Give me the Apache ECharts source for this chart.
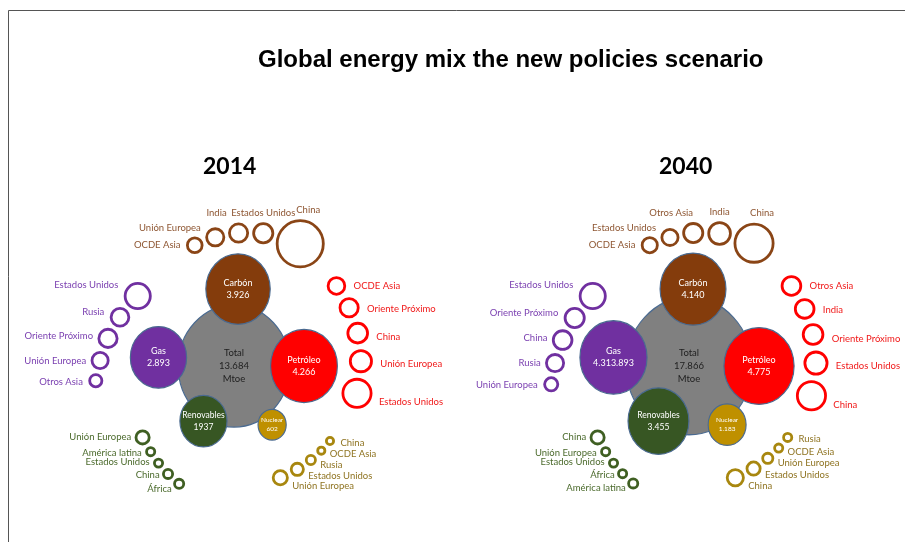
<!DOCTYPE html>
<html>
<head>
<meta charset="utf-8">
<script src="https://cdn.jsdelivr.net/npm/echarts@6/dist/echarts.min.js"></script>
<style>
  html, body { margin: 0; padding: 0; background: #ffffff; }
  #chart { width: 905px; height: 542px; }
</style>
</head>
<body>
<div id="chart"></div>
<script>
// ---------------- Data (Mtoe) ----------------
const years = ['2014', '2040'];
const fuels = ['Carbón', 'Petróleo', 'Gas', 'Renovables', 'Nuclear'];
const fuelValues2014 = [3926, 4266, 2893, 1937, 602];
const fuelValues2040 = [4140, 4775, 4313.893, 3455, 1183];
const fuelText2014 = ['3.926', '4.266', '2.893', '1937', '602'];
const fuelText2040 = ['4.140', '4.775', '4.313.893', '3.455', '1.183'];
const totals = [13684, 17866];
const totalText = ['13.684', '17.866'];

// Regional demand per fuel, in the order the rings follow their arc
const coalRegions2014 = ['OCDE Asia', 'Unión Europea', 'India', 'Estados Unidos', 'China'];
const coalValues2014 = [185, 250, 280, 310, 1900];
const oilRegions2014 = ['OCDE Asia', 'Oriente Próximo', 'China', 'Unión Europea', 'Estados Unidos'];
const oilValues2014 = [235, 280, 326, 377, 674];
const gasRegions2014 = ['Estados Unidos', 'Rusia', 'Oriente Próximo', 'Unión Europea', 'Otros Asia'];
const gasValues2014 = [535, 265, 280, 222, 130];
const renRegions2014 = ['Unión Europea', 'América latina', 'Estados Unidos', 'China', 'África'];
const renValues2014 = [150, 64, 64, 78, 78];
const nucRegions2014 = ['Unión Europea', 'Estados Unidos', 'Rusia', 'OCDE Asia', 'China'];
const nucValues2014 = [172, 130, 78, 52, 52];

const coalRegions2040 = ['OCDE Asia', 'Estados Unidos', 'Otros Asia', 'India', 'China'];
const coalValues2040 = [196, 222, 309, 395, 1270];
const oilRegions2040 = ['Otros Asia', 'India', 'Oriente Próximo', 'Estados Unidos', 'China'];
const oilValues2040 = [294, 294, 326, 414, 674];
const gasRegions2040 = ['Estados Unidos', 'Oriente Próximo', 'China', 'Rusia', 'Unión Europea'];
const gasValues2040 = [535, 309, 294, 249, 150];
const renRegions2040 = ['China', 'Unión Europea', 'Estados Unidos', 'África', 'América latina'];
const renValues2040 = [150, 64, 64, 64, 78];
const nucRegions2040 = ['China', 'Estados Unidos', 'Unión Europea', 'OCDE Asia', 'Rusia'];
const nucValues2040 = [222, 150, 94, 64, 64];

// ---------------- Layout & style ----------------
const W = 905, H = 542;
const panelCenter = [[234, 366], [689, 366]];
const fuelColors  = ['#843C0C', '#FF0000', '#7030A0', '#375623', '#BF9000'];
const ringColors  = ['#8A4516', '#FF0000', '#7030A0', '#3F5F22', '#A8870F'];
const ringText    = ['#8E5632', '#F01818', '#7A3FB0', '#4B6A2C', '#8F7422'];
const outline = '#4A6A90';

// bubble diameter (px) from a value in Mtoe
const SIZE_K = 36.9, SIZE_P = 0.441;
const diam = v => SIZE_K * Math.pow(v / 1000, SIZE_P);
const ellipse = d => [d * 0.955, d * 1.045];

// where each fuel bubble sits around the total (deg ccw from east, px from centre)
const hubAngle = [87, 0, 173.5, 241, 303];
const hubDist  = [77, 70, 76, 63, 70];

// arcs carrying the regional rings of each fuel
const arcs = [
  { start: 108,   dir: -1, r0: 127, dr: 3,   gap: 3 },   // Carbón
  { start: 38,    dir: -1, r0: 130, dr: -1,  gap: 5 },   // Petróleo
  { start: 144,   dir: 1,  r0: 119, dr: 5,   gap: 3 },   // Gas
  { start: 218,   dir: 1,  r0: 116, dr: 3.5, gap: 2.5 }, // Renovables
  { start: -67.5, dir: 1,  r0: 121, dr: 0.2, gap: 3 }    // Nuclear
];
const RING_W = 2.8;

// label placement for each ring slot: [position, distance, offset]
const ringLabelSlots = [
  [['left', 4, [0, 0]], ['left', 3, [0, -9]], ['top', 3, [-22, 0]], ['top', 3, [0, 0]], ['top', 3, [8, 0]]],
  [['right', 6, [0, 0]], ['right', 6, [0, 1]], ['right', 6, [0, 4]], ['right', 6, [0, 3]], ['right', 5, [0, 9]]],
  [['left', 4, [0, -11]], ['left', 4, [0, -5]], ['left', 3, [0, -2]], ['left', 3, [0, 0]], ['left', 4, [0, 1]]],
  [['left', 2, [0, 0]], ['left', 2, [0, 1]], ['left', 2, [0, -1]], ['left', 1, [0, 1]], ['left', 0, [0, 5]]],
  [['right', 2, [0, 8]], ['right', 2, [0, 6.5]], ['right', 2, [0, 5]], ['right', 2, [0, 3.5]], ['right', 4, [0, 2]]]
];

const panels = [
  { center: panelCenter[0], total: totals[0], totalText: totalText[0],
    values: fuelValues2014, texts: fuelText2014,
    rings: [[coalRegions2014, coalValues2014], [oilRegions2014, oilValues2014], [gasRegions2014, gasValues2014],
            [renRegions2014, renValues2014], [nucRegions2014, nucValues2014]] },
  { center: panelCenter[1], total: totals[1], totalText: totalText[1],
    values: fuelValues2040, texts: fuelText2040,
    rings: [[coalRegions2040, coalValues2040], [oilRegions2040, oilValues2040], [gasRegions2040, gasValues2040],
            [renRegions2040, renValues2040], [nucRegions2040, nucValues2040]] }
];

function polar(c, r, deg) {
  const t = deg * Math.PI / 180;
  return [c[0] + r * Math.cos(t), c[1] - r * Math.sin(t)];
}

// rings follow their arc, each one placed just past its neighbour
function arcPositions(center, arc, values) {
  const pts = [];
  let ang = arc.start;
  values.forEach((v, i) => {
    const r = arc.r0 + arc.dr * i;
    if (i > 0) {
      const chord = diam(values[i - 1]) / 2 + diam(v) / 2 + arc.gap;
      ang += arc.dir * (chord / (r - arc.dr / 2)) * 180 / Math.PI;
    }
    pts.push(polar(center, r, ang));
  });
  return pts;
}

const FONT = 'Lato, "Open Sans", sans-serif';

// total bubbles
const totalData = panels.map(p => ({
  name: 'Total',
  value: [p.center[0], p.center[1], p.total],
  label: { formatter: 'Total\n' + p.totalText + '\nMtoe' }
}));

// fuel bubbles
const fuelData = [];
panels.forEach(p => {
  fuels.forEach((f, i) => {
    const pos = polar(p.center, hubDist[i], hubAngle[i]);
    const small = i === 4;
    fuelData.push({
      name: f,
      value: [pos[0], pos[1], p.values[i]],
      itemStyle: { color: fuelColors[i] },
      label: {
        formatter: f + '\n' + p.texts[i],
        fontSize: small ? 6.5 : (i === 3 ? 8.5 : 9),
        lineHeight: small ? 9 : 12
      }
    });
  });
});

// regional ring series, one per fuel
const ringSeries = fuels.map((f, fi) => {
  const data = [];
  panels.forEach(p => {
    const [regions, vals] = p.rings[fi];
    const pts = arcPositions(p.center, arcs[fi], vals);
    regions.forEach((reg, k) => {
      const slot = ringLabelSlots[fi][k];
      data.push({
        name: reg,
        value: [pts[k][0], pts[k][1], vals[k]],
        label: {
          position: slot[0],
          distance: slot[1] + RING_W / 2,
          offset: slot[2]
        }
      });
    });
  });
  return {
    type: 'scatter',
    name: f + ' regiones',
    silent: true,
    z: 4,
    symbol: 'circle',
    symbolSize: v => diam(v[2]) - RING_W,
    itemStyle: { color: 'rgba(255,255,255,0)', borderColor: ringColors[fi], borderWidth: RING_W, opacity: 1 },
    label: {
      show: true,
      formatter: '{b}',
      color: ringText[fi],
      fontFamily: FONT,
      fontSize: 9.5
    },
    data
  };
});

const option = {
  backgroundColor: '#ffffff',
  animation: false,
  title: [
    { text: 'Global energy mix the new policies scenario', left: 253, top: 43,
      textStyle: { fontFamily: '"Liberation Sans", Arial, sans-serif', fontWeight: 'bold', fontSize: 24, color: '#000000' } },
    { text: years[0], left: 198, top: 150,
      textStyle: { fontFamily: FONT, fontWeight: 'bold', fontSize: 23, color: '#000000' } },
    { text: years[1], left: 654, top: 150,
      textStyle: { fontFamily: FONT, fontWeight: 'bold', fontSize: 23, color: '#000000' } }
  ],
  grid: { left: 0, right: 0, top: 0, bottom: 0 },
  xAxis: { type: 'value', min: 0, max: W, show: false },
  yAxis: { type: 'value', min: 0, max: H, inverse: true, show: false },
  graphic: [
    { type: 'line', shape: { x1: 8.5, y1: 10.5, x2: 8.5, y2: H }, style: { stroke: '#555555', lineWidth: 1 } },
    { type: 'line', shape: { x1: 8.5, y1: 10.5, x2: W, y2: 10.5 }, style: { stroke: '#555555', lineWidth: 1 } }
  ],
  series: [
    {
      type: 'scatter', name: 'Total', silent: true, z: 2,
      symbol: 'circle',
      symbolSize: v => ellipse(diam(v[2])),
      itemStyle: { color: '#808080', borderColor: outline, borderWidth: 1.2, opacity: 1 },
      label: { show: true, position: 'inside', color: '#1E1E1E', fontFamily: FONT, fontSize: 9.5, lineHeight: 13 },
      data: totalData
    },
    {
      type: 'scatter', name: 'Fuentes', silent: true, z: 3,
      symbol: 'circle',
      symbolSize: v => ellipse(diam(v[2])),
      itemStyle: { borderColor: outline, borderWidth: 1.2, opacity: 1 },
      label: { show: true, position: 'inside', color: '#FFFFFF', fontFamily: FONT, fontSize: 9, lineHeight: 12 },
      data: fuelData
    },
    ...ringSeries
  ]
};

const chart = echarts.init(document.getElementById('chart'));
chart.setOption(option);
</script>
</body>
</html>
